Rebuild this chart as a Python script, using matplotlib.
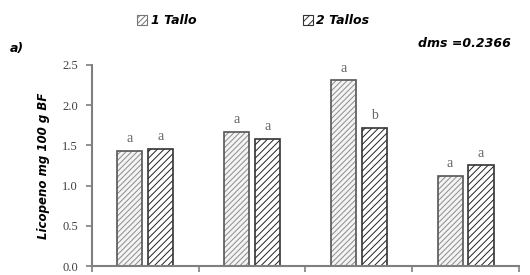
import numpy as np
import matplotlib.pyplot as plt
from matplotlib.patches import Patch

# data
groups = ["G1", "G2", "G3", "G4"]
tallo1 = [1.43, 1.67, 2.31, 1.12]
tallo2 = [1.46, 1.58, 1.72, 1.25]
letras1 = ["a", "a", "a", "a"]
letras2 = ["a", "a", "b", "a"]
series_names = ["1 Tallo", "2 Tallos"]
dms_text = "dms =0.2366"

AXC = "#7f7f7f"
SERIF = "Liberation Serif"

plt.rcParams["hatch.linewidth"] = 0.7

fig = plt.figure(figsize=(5.3, 2.75), dpi=100)
ax = fig.add_axes([0.1736, 0.0327, 0.8055, 0.731])

x = np.arange(len(groups))
w = 0.235
off = 0.145

# hatch layers (hatch colour follows edgecolor), then outline on top
ax.bar(x - off, tallo1, w, color="#f4f4f4", edgecolor="#8c8c8c", hatch="//////", linewidth=0)
ax.bar(x - off, tallo1, w, color="none", edgecolor="#555555", linewidth=1.2)
ax.bar(x + off, tallo2, w, color="white", edgecolor="#222222", hatch="/////", linewidth=0)
ax.bar(x + off, tallo2, w, color="none", edgecolor="#333333", linewidth=1.2)

for i in range(len(groups)):
    ax.text(x[i] - off, tallo1[i] + 0.07, letras1[i], ha="center", va="bottom",
            fontsize=10, family=SERIF, color="#666666")
    ax.text(x[i] + off, tallo2[i] + 0.07, letras2[i], ha="center", va="bottom",
            fontsize=10, family=SERIF, color="#666666")

ax.set_xlim(-0.5, len(groups) - 0.5)
ax.set_ylim(0, 2.5)
ax.set_yticks(np.arange(0, 2.51, 0.5))
ax.set_yticklabels([f"{v:.1f}" for v in np.arange(0, 2.51, 0.5)],
                   family=SERIF, fontsize=9, color="#404040")
ax.set_xticks(np.arange(len(groups) + 1) - 0.5)
ax.set_xticklabels([])
ax.tick_params(axis="both", color=AXC, width=1.2, length=4)
ax.tick_params(axis="y", pad=6)

for s in ["top", "right"]:
    ax.spines[s].set_visible(False)
for s in ["left", "bottom"]:
    ax.spines[s].set_color(AXC)
    ax.spines[s].set_linewidth(1.5)

ax.set_ylabel("Licopeno mg 100 g BF", fontsize=8.5, fontweight="bold",
              fontstyle="italic", labelpad=9)

handles = [Patch(facecolor="white", edgecolor="#777777", hatch="//////", linewidth=0.8),
           Patch(facecolor="white", edgecolor="#333333", hatch="////", linewidth=0.8)]
fig.legend(handles, series_names, loc="center", bbox_to_anchor=(0.478, 0.925), ncol=2,
           frameon=False, handlelength=0.8, handleheight=0.8, handletextpad=0.3,
           columnspacing=8.5, prop={"weight": "bold", "style": "italic", "size": 9})

fig.text(0.018, 0.825, "a)", fontsize=9, fontweight="bold", fontstyle="italic", va="center")
fig.text(0.963, 0.843, dms_text, fontsize=9, fontweight="bold", fontstyle="italic",
         va="center", ha="right")

fig.savefig("out.png", dpi=100)
